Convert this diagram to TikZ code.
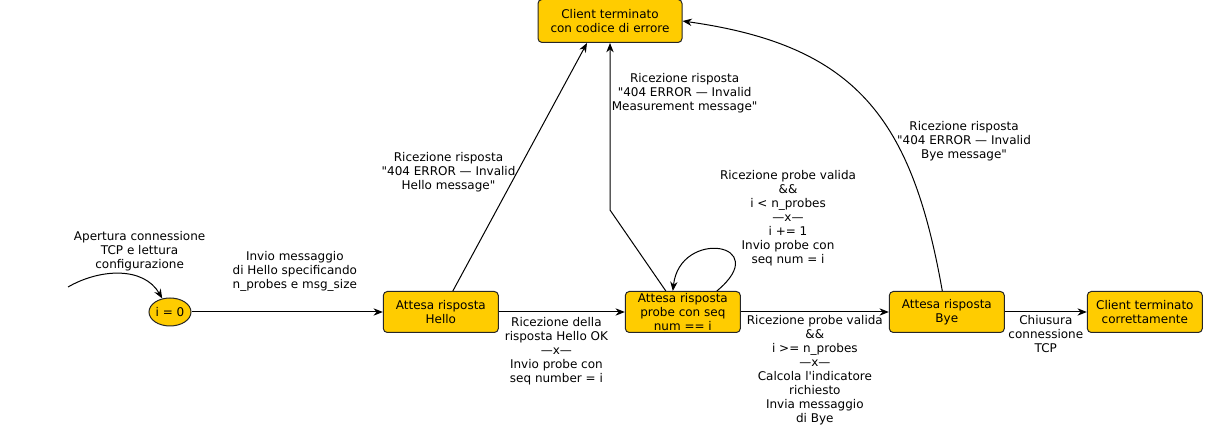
\documentclass[tikz,border=0pt]{standalone}
\usepackage{fontspec}
\newfontfamily\diagfont{DejaVu Sans}
\usetikzlibrary{positioning, arrows.meta, shapes.geometric, calc}
\definecolor{stateyellow}{HTML}{FFCC00}

\begin{document}
\begin{tikzpicture}[
    x=0.75pt, y=0.75pt, align=center,
    font=\diagfont\fontsize{9}{10.5}\selectfont,
    state/.style={rectangle, draw=black!85, line width=0.75pt, rounded corners=3pt, fill=stateyellow, minimum width=86.25pt, minimum height=30.75pt, inner xsep=2pt, inner ysep=0pt, text centered},
    initstate/.style={ellipse, draw=black!85, line width=0.75pt, fill=stateyellow, minimum width=31.5pt, minimum height=21pt, inner sep=0pt},
    arrow/.style={-{Stealth[length=7pt, width=5.5pt]}, line width=0.75pt},
    edgelabel/.style={inner sep=1pt}
]
\useasboundingbox (0,0) rectangle (1210,428);

% Main states
\node[initstate] (init) at (170,116) {i = 0};
\node[state, right=143.5pt of init] (hello) {Attesa risposta\\Hello};
\node[state, right=94.5pt of hello] (probe) {Attesa risposta\\probe con seq\\num == i};
\node[state, right=111pt of probe] (bye) {Attesa risposta\\Bye};
\node[state, right=61.5pt of bye] (done) {Client terminato\\correttamente};
\node[state, minimum width=108pt, minimum height=32.25pt] (error) at (610,407) {Client terminato\\con codice di errore};

% Helper points
\coordinate (entry) at (68,141);
\coordinate (mbend) at ($(error.south)+(0,-167)$);

% Arrows
\draw[arrow] (entry) to[out=30, in=120] node[pos=0.6, above, xshift=7pt, yshift=1.5pt, edgelabel] {Apertura connessione\\TCP e lettura\\configurazione} (init);
\draw[arrow] (init) -- (hello) node[pos=0.54, above=14pt, edgelabel] {Invio messaggio\\di Hello specificando\\n\_probes e msg\_size};
\draw[arrow] (hello) -- (probe) node[pos=0.457, below=2.5pt, edgelabel] {Ricezione della\\risposta Hello OK\\—x—\\Invio probe con\\seq number = i};
\draw[arrow] (probe) -- (bye) node[pos=0.5, below=1pt, edgelabel] {Ricezione probe valida\\\&\&\\i >= n\_probes\\—x—\\Calcola l'indicatore\\richiesto\\Invia messaggio\\di Bye};
\draw[arrow] (bye) -- (done) node[pos=0.5, below=1.5pt, edgelabel] {Chiusura\\connessione\\TCP};
\draw[arrow] ([xshift=9pt]hello.north) -- ([xshift=-17.25pt]error.south) node[pos=0.48, left, edgelabel] {Ricezione risposta\\"404 ERROR — Invalid\\Hello message"};
\draw[arrow] ([xshift=-12.75pt]probe.north) -- (mbend) -- (error.south) node[pos=0.7, right, edgelabel] {Ricezione risposta\\"404 ERROR — Invalid\\Measurement message"};
\draw[arrow] ([xshift=25.5pt]probe.north) .. controls +(58,48) and +(7,63) .. ([xshift=-7.5pt]probe.north);
\node[edgelabel] (looplabel) at (788,210) {Ricezione probe valida\\\&\&\\i < n\_probes\\—x—\\i += 1\\Invio probe con\\seq num = i};
\draw[arrow] ([xshift=-3.4pt]bye.north) to[out=100, in=-8, looseness=1.2] node[pos=0.36, right, edgelabel] {Ricezione risposta\\"404 ERROR — Invalid\\Bye message"} (error.east);

\end{tikzpicture}
\end{document}
